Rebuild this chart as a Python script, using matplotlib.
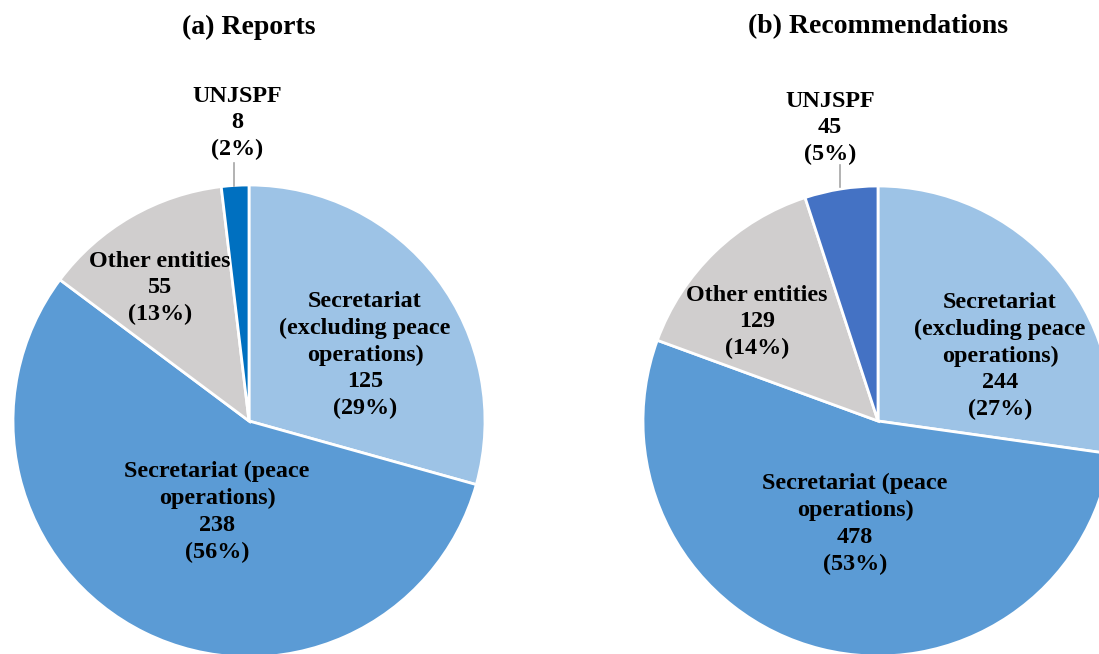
import matplotlib
matplotlib.use("Agg")
import matplotlib.pyplot as plt

plt.rcParams['font.family'] = ['Liberation Serif', 'DejaVu Serif']

categories = ["Secretariat\n(excluding peace\noperations)", "Secretariat (peace\noperations)",
              "Other entities", "UNJSPF"]
reports = [125, 238, 55, 8]
recommendations = [244, 478, 129, 45]
titles = ["(a) Reports", "(b) Recommendations"]

colors_a = ["#9DC3E6", "#5B9BD5", "#D0CECE", "#0070C0"]
colors_b = ["#9DC3E6", "#5B9BD5", "#D0CECE", "#4472C4"]

W, H = 1099, 654
fig = plt.figure(figsize=(W / 100, H / 100), dpi=100)

def px_axes(cx, cy, r):
    return fig.add_axes([(cx - r) / W, (H - (cy + r)) / H, 2 * r / W, 2 * r / H])

# label positions in pixels, per panel
label_px_a = [(365, 355), (217, 512), (160, 288), (237, 123)]
label_px_b = [(1000, 356), (855, 524), (757, 322), (830, 128)]

panels = [
    (249, 421, 236, reports, colors_a, label_px_a, titles[0], (234, 163)),
    (878, 421, 235, recommendations, colors_b, label_px_b, titles[1], (840, 165)),
]

for cx, cy, r, vals, cols, lpx, title, lead in panels:
    ax = px_axes(cx, cy, r)
    ax.pie(vals, startangle=90, counterclock=False, colors=cols, radius=1,
           wedgeprops=dict(edgecolor='white', linewidth=2))
    ax.set_xlim(-1, 1)
    ax.set_ylim(-1, 1)
    ax.set_aspect('auto')
    ax.axis('off')
    total = sum(vals)
    for cat, v, (px, py) in zip(categories, vals, lpx):
        pct = round(100 * v / total)
        ax.text((px - cx) / r, (cy - py) / r, f"{cat}\n{v}\n({pct}%)",
                ha='center', va='center', fontsize=17.4, fontweight='bold',
                linespacing=1.35, clip_on=False)
    lx = (lead[0] - cx) / r
    ax.plot([lx, lx], [(cy - lead[1]) / r, 0.995], color='#A6A6A6', lw=1.2, clip_on=False)
    fig.text(cx / W, 1 - 27 / H, title, ha='center', va='center',
             fontsize=20, fontweight='bold')

fig.savefig("out.png", dpi=100)
